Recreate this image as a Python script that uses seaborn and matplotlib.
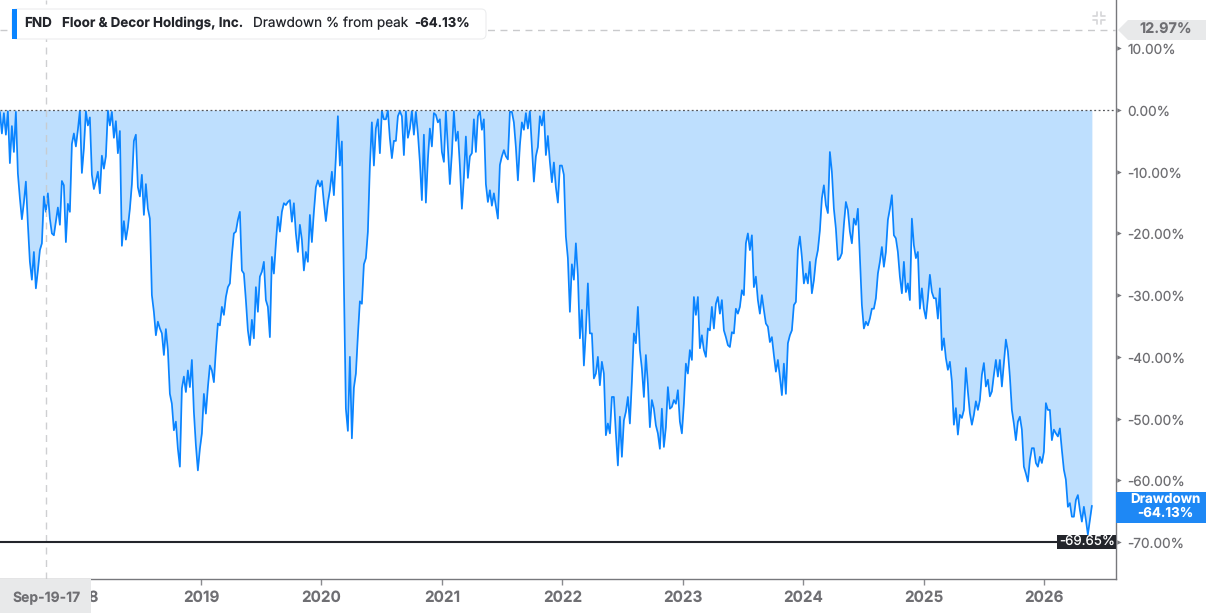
import matplotlib
matplotlib.use("Agg")
import matplotlib.pyplot as plt
import matplotlib.dates as mdates
from matplotlib.lines import Line2D
from matplotlib.patches import FancyBboxPatch, Polygon, Rectangle
from matplotlib.transforms import ScaledTranslation
import numpy as np
import pandas as pd
import seaborn as sns

# drawdown, one reading about every six days
drawdown_2017 = [-0.3, -3.8, -0.5, -4.0, -0.2, -8.6, -2.6, -6.8, -0.3, -10.3, -14.3, -17.7, -15, -11.6, -18.5,
                 -24.6, -27.5, -23, -28.9, -26, -22.7, -21.6, -14, -16.5, -13.5, -17.6, -20, -20.3, -18, -15.8,
                 -18.6, -11.5, -12.2, -21.4, -15.2, -16.5, -5.5, -3.8, -5.9, -3.2, -0.1, -10.2, -6.2, -0.2, -2.5,
                 -1.2, -10.5, -12.8, -11.5, -10, -13.5, -7.4, -9.5, -7.5, -0.1, -2.5, -0.3, -4.5, -1.8, -7, -3.4,
                 -22, -18, -21, -19, -16, -12, -5, -4, -12.5, -14, -10.5, -17, -12, -16, -17.6]
drawdown_2018 = [-30, -32.7, -36.5, -34.3, -35.4, -36.2, -39.7, -35.5, -38.9, -46, -47.6, -51.9, -50.5, -54.9,
                 -57.8, -45.1, -43.2, -45.7, -42.2, -44.9, -40.5, -48.9, -54.3, -58.4, -54.9, -52.4, -46, -49.2,
                 -44.9, -41.4, -42.2, -44.1, -38.9, -34.6, -34.9, -31.9, -33.2, -30.3, -28.7, -28.1, -23.5, -20,
                 -19.7, -17.8, -16.5, -26, -26.5, -30.8, -35.7, -38.1, -34, -37, -28.7, -32.7, -27, -26.2, -24.6,
                 -30.8, -31.9, -36.8, -23.8, -26.5, -21.6, -17.3, -19.7, -16.5, -15.1, -15.4, -14.9, -14.6, -18.1,
                 -15.1, -20, -23]
drawdown_2020 = [-18.6, -21, -26, -23, -24.6, -17, -21.4, -16.5, -12.5, -11.4, -12.4, -11.5, -15, -18, -15, -13,
                 -10, -13.8, -7.6, -1, -9, -5.1, -28, -48.4, -52, -40, -53.2, -45, -42.7, -36.5, -31, -31.4, -25,
                 -24, -19.7, -9, -2, -9, -3, -1.5, -7, -0.2, -1.5, -1.5, -0.1, -4.6, -7.8, -5, -5, -1, -0.2, -1,
                 -7.3, -0.2, -4.5, -3, -0.2, -4, -0.3, -3.8, -8.4, -14.6, -4, -15, -8, -3, -5.9, -0.5, -0.8, -2,
                 -1.5, -6.8, -8.4, -0.2, -6.2, -12, -7, -0.2, -5, -3.5, -9, -16, -11, -4.3, -11, -7.5, -7, -1.5,
                 -6.8, -1, -0.2, -3.2, -1.5, -12, -14.9, -13, -15.5, -13.5, -15.5, -17.6, -8.9, -7.5, -6.5, -7.5,
                 -8, -0.3, -0.3, -2, -6, -11.4, -5.7, -2, -3.2, -0.5, -3, -0.2, -6, -11.6, -7.5, -6, -1, -2.5,
                 -0.2, -7.3, -4.2, -8.4, -11.7, -8.5, -12.5, -15, -9, -9, -10.5, -20.5, -24, -32.7, -25, -27.5,
                 -21.6, -26.8, -37]
drawdown_2022 = [-32.4, -41.4, -35.7, -28.1, -36.2, -36.2, -43.5, -42.7, -40, -44.6, -40.8, -42.7, -52.7, -50.8,
                 -52.4, -46.5, -46.5, -52.4, -57.6, -49.7, -56.2, -50.3, -48.9, -46.5, -50.8, -44, -36.2, -37.8,
                 -31.9, -38.9, -41.9, -46.5, -39.7, -44.3, -51.4, -47, -48.4, -51.1, -52.4, -54.9, -48.4, -54.6,
                 -51.4, -44.9, -48.4, -48.1, -47, -47.6, -45.4, -50.5, -52.4, -47.6, -41.1, -42.7, -38.9, -40.5,
                 -30.3, -33.2, -30.3, -38.6, -36.5, -38.9, -40, -35.4, -35.7, -31.9, -35.4, -31.4, -30.3, -33,
                 -30.8, -35.7, -36.8, -38.1, -38.4, -36, -36.2, -32.2, -33, -31.9, -29.2, -30, -21.6, -20, -22.7,
                 -20.3, -28.7, -27, -30.8, -33, -30, -32.4, -34.6, -35.1, -37.6, -36.8, -39.7, -42.4, -40.5, -43.2,
                 -46.2, -41.1, -46, -37.8, -36.5, -35.7, -31.6, -31.1, -22.7, -20.5, -23.8, -28.1, -26.5, -28.1,
                 -24.6, -29.7, -27.6, -24.3, -22.7, -19.5]
drawdown_2024 = [-14.3, -12.2, -15.4, -16.7, -6.8, -10, -16, -19.2, -24.3, -24, -23.2, -18.6, -14.9, -16.2, -19.7,
                 -21.6, -17.6, -18.6, -16, -24, -31.6, -35.4, -34.3, -34.9, -33.8, -32.2, -32.2, -30.5, -26.5,
                 -24.6, -22.2, -25.4, -23, -17.8, -16, -13.8, -20.3, -20.8, -23, -27, -29.7, -24.6, -29.5, -28.1,
                 -30.8, -17.6, -21.9, -24, -23, -32.2, -28.9, -32.2, -33.8, -30.5, -26.7, -29.5, -30.5, -30.5,
                 -33.8, -28.9]
drawdown_2025 = [-38.9, -37, -40.2, -42.1, -40.8, -44, -51, -48.3, -52.6, -49.4, -49.9, -48.6, -41.8, -45.6, -49.1,
                 -51, -49.4, -47.2, -48.6, -47, -42.9, -41, -44.8, -43.7, -46.4, -45.6, -42.9, -40.5, -43.2, -40.5,
                 -44.8, -41, -37.2, -39.1, -43.2, -48.6, -50.8, -53.5, -50.5, -49.7, -51.8, -57.8, -58.9, -60.2,
                 -56.7, -54.8, -54.8, -57.2, -57.8, -56.2, -57.2, -55.4, -47.5, -48.6, -48.6, -53.5, -51.8, -52.4,
                 -52.9, -51.6, -55.1, -58.3, -59.9, -64.3, -63.7, -65.9, -65.9, -63.2, -62.4, -64.8, -66.7, -64.3,
                 -66.4, -68.8, -66.4, -64.13]

year_ticks = [2018, 2019, 2020, 2021, 2022, 2023, 2024, 2025, 2026]
percent_ticks = [10, 0, -10, -20, -30, -40, -50, -60, -70]
last_value = -64.13
low_value = -69.65
cursor_value = 12.97
cursor_date = "2017-09-19"
first_date = "2017-05-01"

W, H = 1206, 613
LINE = "#0A84FF"
FILL = "#BEDFFE"
GREY = "#6F6F73"
DARK = "#23252B"
FONT = ["Inter", "DejaVu Sans"]

sns.set_theme(style="white")
plt.rcParams["font.family"] = FONT
# browser-like glyph spacing
plt.rcParams["text.hinting"] = "no_hinting"
plt.rcParams["text.hinting_factor"] = 1


def px(x, y):
    # figure fraction from reference pixels
    return x / W, 1 - y / H


series = drawdown_2017 + drawdown_2018 + drawdown_2020 + drawdown_2022 + drawdown_2024 + drawdown_2025
dates = pd.Timestamp(first_date) + pd.to_timedelta(np.arange(len(series)) * 6.066, unit="D")
df = pd.DataFrame({"date": dates, "drawdown": series})

fig = plt.figure(figsize=(W / 100, H / 100), dpi=100, facecolor="white")
ax = fig.add_axes([0, 34 / H, 1116 / W, 579 / H], facecolor="white")

ax.fill_between(df["date"], df["drawdown"], 0, color=FILL, lw=0, zorder=1)
sns.lineplot(data=df, x="date", y="drawdown", ax=ax, color=LINE, lw=1.25, zorder=2, estimator=None)

# 2019-01-01 sits at px 201 and a pixel is 3.033 days
base = pd.Timestamp("2019-01-01")
ax.set_xlim(base - pd.Timedelta(days=201 * 3.033), base + pd.Timedelta(days=915 * 3.033))
ax.set_ylim(-76.0, 17.83)

ax.set_xlabel("")
ax.set_ylabel("")
for side in ["left", "top"]:
    ax.spines[side].set_visible(False)
for side in ["right", "bottom"]:
    ax.spines[side].set_color("#77787C")
    ax.spines[side].set_linewidth(1.0)

ax.set_xticks([mdates.date2num(pd.Timestamp(f"{y}-01-01")) for y in year_ticks])
ax.set_xticklabels([str(y) for y in year_ticks], fontsize=11, fontweight="bold", color=GREY)
ax.tick_params(axis="x", bottom=True, length=4, width=1, color="#8A8B8F", pad=4)

ax.yaxis.tick_right()
ax.set_yticks(percent_ticks)
ax.set_yticklabels([f"{p:.2f}%" for p in percent_ticks], fontsize=9.8, color=GREY)
ax.tick_params(axis="y", right=False, length=0, pad=8)
nudge = ScaledTranslation(0, -0.7 / 100, fig.dpi_scale_trans)
for lab in ax.get_yticklabels():
    lab.set_transform(lab.get_transform() + nudge)
ax.plot(np.full(len(percent_ticks), 1.0025), percent_ticks, ">", color="#77787C", ms=3.2, mew=0,
        transform=ax.get_yaxis_transform(), clip_on=False, zorder=5)

# reference lines
ax.axhline(0, color="#55565A", lw=0.9, dashes=(1.5, 2), zorder=3)
ax.axhline(low_value - 0.3, color=DARK, lw=1.5, zorder=4)
ax.axhline(cursor_value, color="#C9CACC", lw=1, dashes=(5, 4), zorder=3)
ax.axvline(pd.Timestamp(cursor_date), color="#C9CACC", lw=1, dashes=(5, 4), zorder=3, alpha=0.9)

# low label on the axis edge
x0, y0 = px(1057, 549)
fig.add_artist(Rectangle((x0, y0), 59 / W, 14 / H, transform=fig.transFigure, color=DARK, lw=0, zorder=6))
fig.text(*px(1087, 541.5), f"{low_value:.2f}%", color="white", fontsize=9.6, ha="center", va="center", zorder=7)

# current value tag
x0, y0 = px(1116, 523)
fig.add_artist(Rectangle((x0, y0), 90 / W, 31 / H, transform=fig.transFigure, color="#1E88F5", lw=0, zorder=6))
fig.text(*px(1165.5, 500), "Drawdown", color="white", fontsize=9.6, fontweight="bold", ha="center", va="center", zorder=7)
fig.text(*px(1165.5, 513), f"{last_value:.2f}%", color="white", fontsize=9.6, fontweight="bold", ha="center", va="center", zorder=7)

# cursor tag on the right
tag = [px(1118, 30), px(1128, 20), px(1206, 20), px(1206, 40), px(1128, 40)]
fig.add_artist(Polygon(tag, closed=True, transform=fig.transFigure, color="#E8E9EA", lw=0, zorder=6))
fig.text(*px(1166, 30), f"{cursor_value:.2f}%", color=GREY, fontsize=10.4, fontweight="bold", ha="center", va="center", zorder=7)

# cursor date tag covers most of the 2018 label
x0, y0 = px(0, 613)
fig.add_artist(Rectangle((x0, y0), 91 / W, 34 / H, transform=fig.transFigure, color="#E8E9EA", lw=0, zorder=6))
fig.text(*px(12, 598), "Sep-19-17", color=GREY, fontsize=10, fontweight="bold", ha="left", va="center", zorder=7)

# header box
x0, y0 = px(12, 39)
fig.add_artist(FancyBboxPatch((x0, y0), 474 / W, 30 / H, boxstyle="round,pad=0,rounding_size=0.004",
                              mutation_aspect=2, transform=fig.transFigure, fc="white", ec="#ECEDEE", lw=0.8, zorder=6))
x0, y0 = px(12, 39)
fig.add_artist(Rectangle((x0, y0), 5 / W, 30 / H, transform=fig.transFigure, color=LINE, lw=0, zorder=7))
header = [(24, "FND", "bold", 9.7), (62, "Floor & Decor Holdings, Inc.", "bold", 9.63),
          (253, "Drawdown % from peak", "normal", 9.75), (414, f"{last_value:.2f}%", "bold", 9.5)]
for hx, label, weight, size in header:
    fig.text(*px(hx, 23.5), label, color=DARK, fontsize=size, fontweight=weight, ha="left", va="center", zorder=8)

# collapse icon, four corners pointing at the middle
for cx, cy, sx, sy in [(1097, 16, -1, -1), (1101, 16, 1, -1), (1097, 20, -1, 1), (1101, 20, 1, 1)]:
    fig.add_artist(Line2D([px(cx + sx * 4, cy)[0], px(cx, cy)[0], px(cx, cy + sy * 4)[0]],
                          [px(cx + sx * 4, cy)[1], px(cx, cy)[1], px(cx, cy + sy * 4)[1]],
                          color="#D5D6D8", lw=1.2, zorder=6))

fig.savefig("out.png", dpi=100)
